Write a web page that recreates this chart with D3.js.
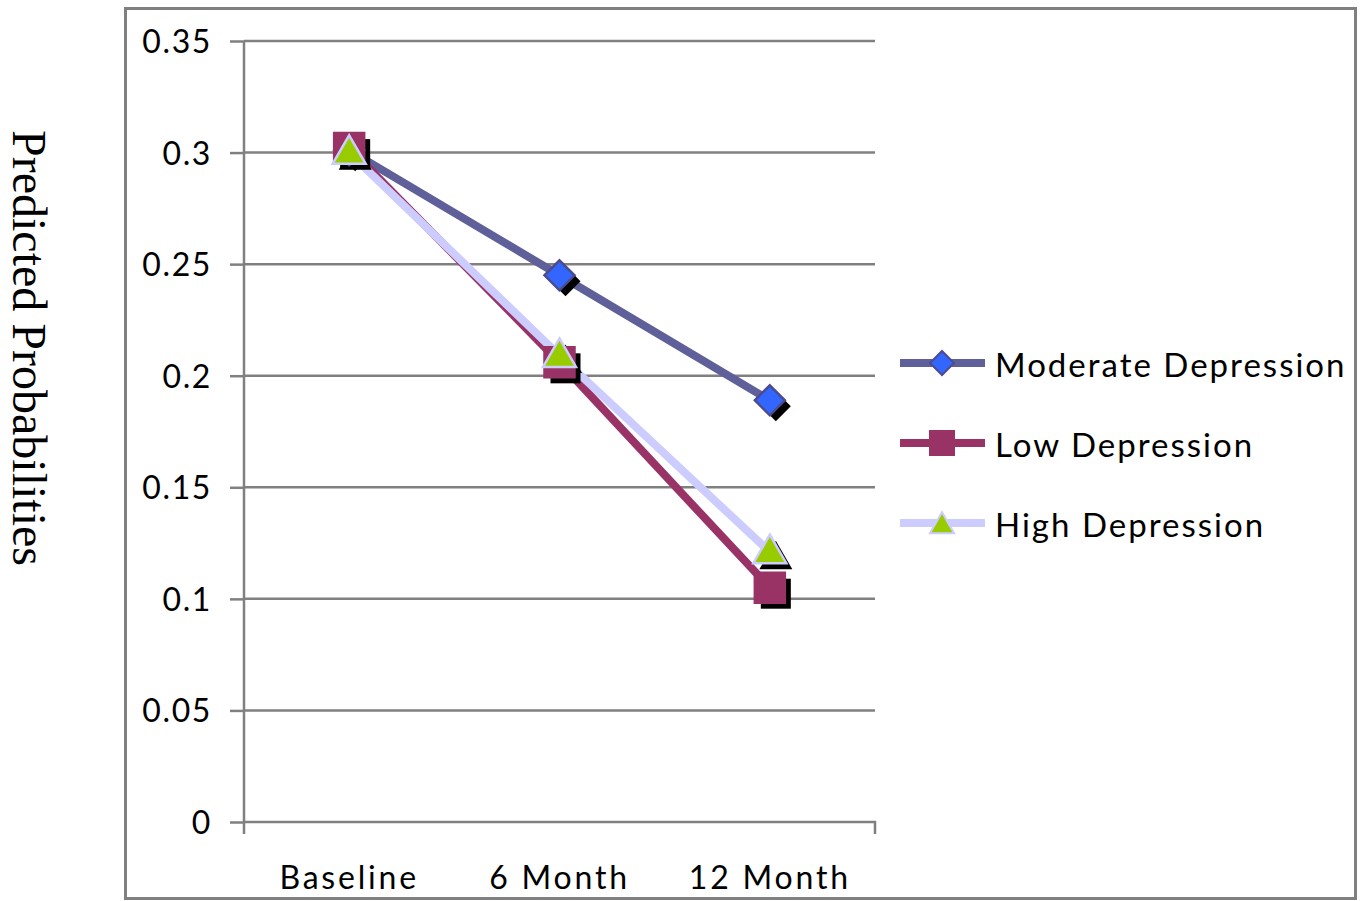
<!DOCTYPE html>
<html><head><meta charset="utf-8">
<script src="https://cdn.jsdelivr.net/npm/d3@7"></script>
<style>body{margin:0;background:#fff}svg{display:block}</style>
</head><body>
<script>
const categories = ["Baseline", "6 Month", "12 Month"];
const seriesNames = ["Moderate Depression", "Low Depression", "High Depression"];
const moderate = [0.301, 0.245, 0.189];
const low = [0.302, 0.206, 0.105];
const high = [0.300, 0.209, 0.121];
const yTicks = [0, 0.05, 0.1, 0.15, 0.2, 0.25, 0.3, 0.35];
const yTickLabels = ["0", "0.05", "0.1", "0.15", "0.2", "0.25", "0.3", "0.35"];

const W = 1366, H = 901;
const svg = d3.select("body").append("svg").attr("width", W).attr("height", H);
const m = {left: 244, right: 875, top: 41, bottom: 822};
const sans = "Lato, 'Open Sans', sans-serif";

svg.append("rect").attr("x", 125.5).attr("y", 8.5).attr("width", 1230).attr("height", 890)
  .attr("fill", "none").attr("stroke", "#808080").attr("stroke-width", 3);

const x = d3.scaleBand().domain(categories).range([m.left, m.right]);
const y = d3.scaleLinear().domain([0, 0.35]).range([m.bottom, m.top]);

// gridlines
svg.append("g").selectAll("line").data(yTicks.slice(1)).join("line")
  .attr("x1", m.left).attr("x2", m.right).attr("y1", d => y(d)).attr("y2", d => y(d))
  .attr("stroke", "#808080").attr("stroke-width", 2.5);

// y axis
const yAxis = svg.append("g").attr("transform", `translate(${m.left},0)`)
  .call(d3.axisLeft(y).tickValues(yTicks).tickFormat((d, i) => yTickLabels[i]).tickSize(14).tickPadding(18));
yAxis.select(".domain").attr("stroke", "#808080").attr("stroke-width", 2.5).attr("d", `M0,${m.top}V${m.bottom + 12}`);
yAxis.selectAll(".tick line").attr("stroke", "#808080").attr("stroke-width", 2.5);
yAxis.selectAll(".tick text").attr("font-family", sans).attr("font-size", 32)
  .attr("letter-spacing", 1.6).attr("fill", "#000").attr("x", -32).attr("dy", "0.36em");

// x axis
const xAxis = svg.append("g").attr("transform", `translate(0,${m.bottom})`)
  .call(d3.axisBottom(x).tickSize(0));
xAxis.select(".domain").attr("stroke", "#808080").attr("stroke-width", 2.5).attr("d", `M${m.left},0H${m.right}V12`);
xAxis.selectAll(".tick text").attr("font-family", sans).attr("font-size", 32)
  .attr("letter-spacing", 2.8).attr("fill", "#000").attr("y", 67).attr("dy", 0);

// y title
svg.append("text").attr("transform", "translate(13,348) rotate(90)")
  .attr("text-anchor", "middle").attr("font-family", "'Liberation Serif', serif").attr("font-size", 48)
  .text("Predicted Probabilities");

const series = [
  {name: seriesNames[0], values: moderate, line: "#5F5F99", fill: "#3366FF", stroke: "#4B4B8F", shape: "diamond"},
  {name: seriesNames[1], values: low, line: "#993366", fill: "#993366", stroke: "#993366", shape: "square"},
  {name: seriesNames[2], values: high, line: "#CCCCFF", fill: "#99CC00", stroke: "#CCCCFF", shape: "triangle"}
];
const cx = c => x(c) + x.bandwidth() / 2;
const lineGen = d3.line().x((d, i) => cx(categories[i])).y(d => y(d));

function shapePath(shape, s) {
  if (shape === "diamond") return `M0,${-s}L${s},0L0,${s}L${-s},0Z`;
  if (shape === "square") return `M${-s},${-s}H${s}V${s}H${-s}Z`;
  return `M0,${-s * 1.15}L${s * 1.1},${s * 0.75}H${-s * 1.1}Z`;
}
const sizes = {diamond: 15, square: 15, triangle: 15};

series.forEach(s => {
  svg.append("path").datum(s.values).attr("d", lineGen).attr("fill", "none")
    .attr("stroke", s.line).attr("stroke-width", 8);
});
series.forEach(s => {
  svg.append("g").selectAll("path").data(s.values).join("path")
    .attr("transform", (d, i) => `translate(${cx(categories[i]) + 6},${y(d) + 6})`)
    .attr("d", shapePath(s.shape, sizes[s.shape])).attr("fill", "#000");
});
series.forEach(s => {
  svg.append("g").selectAll("path").data(s.values).join("path")
    .attr("transform", (d, i) => `translate(${cx(categories[i])},${y(d)})`)
    .attr("d", shapePath(s.shape, sizes[s.shape])).attr("fill", s.fill)
    .attr("stroke", s.stroke).attr("stroke-width", 2.5).attr("stroke-linejoin", "miter");
});

// legend
const lg = svg.append("g");
series.forEach((s, i) => {
  const ly = 363 + i * 80;
  lg.append("line").attr("x1", 900).attr("x2", 985).attr("y1", ly).attr("y2", ly)
    .attr("stroke", s.line).attr("stroke-width", 8);
  const sz = s.shape === "triangle" ? 11 : 12;
  lg.append("path").attr("transform", `translate(942,${ly + (s.shape === "triangle" ? 2 : 0)})`)
    .attr("d", shapePath(s.shape, sz)).attr("fill", s.fill).attr("stroke", s.stroke).attr("stroke-width", 2);
  lg.append("text").attr("x", 995).attr("y", ly + 14).attr("font-family", sans)
    .attr("font-size", 33).attr("letter-spacing", 2).text(s.name);
});
</script>
</body></html>
